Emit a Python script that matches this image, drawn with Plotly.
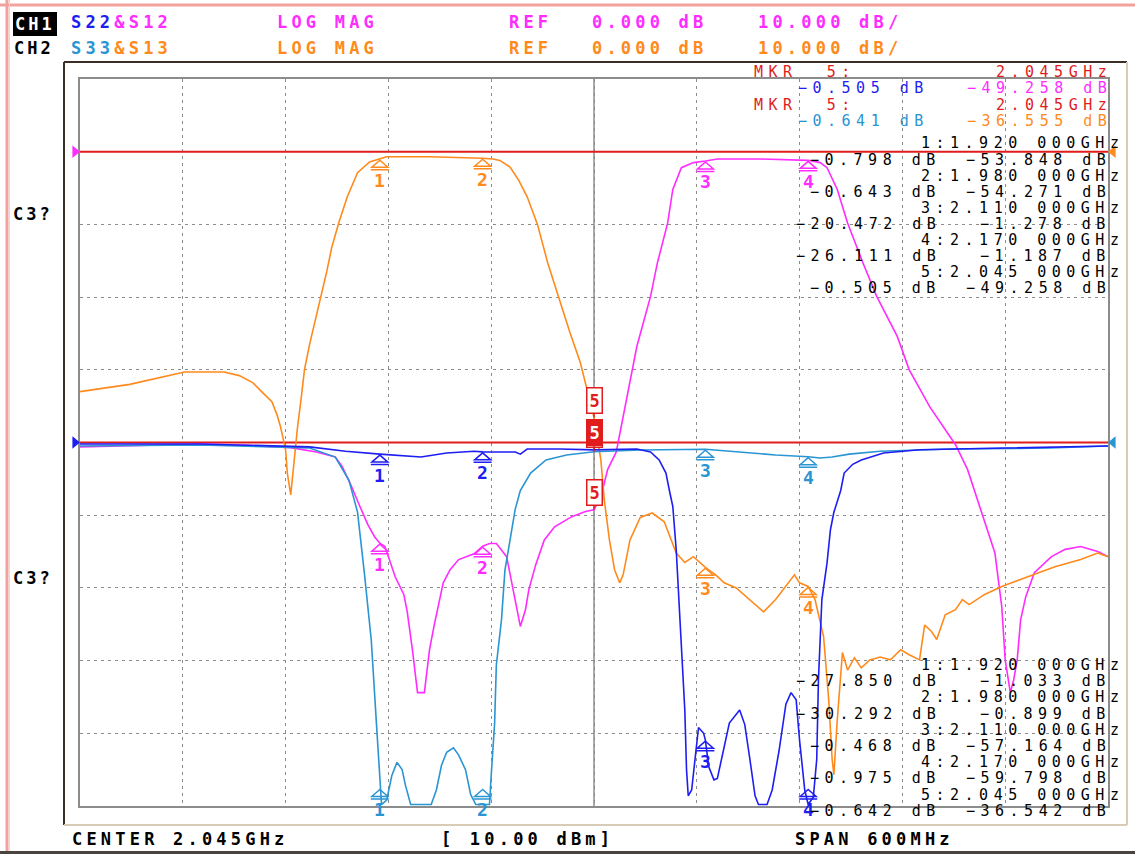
import plotly.graph_objects as go

# ---------------- data (frequency in GHz, level in dB) ----------------
S13_FREQ = [1.745, 1.774, 1.806, 1.829, 1.838, 1.846, 1.851, 1.857, 1.860, 1.862, 1.865, 1.866, 1.868, 1.869,
            1.871, 1.872, 1.874, 1.876, 1.879, 1.881, 1.884, 1.886, 1.889, 1.892, 1.896, 1.901, 1.907, 1.914,
            1.920, 1.924, 1.949, 1.977, 1.980, 1.986, 1.990, 1.996, 2.001, 2.006, 2.012, 2.018, 2.023, 2.031,
            2.037, 2.041, 2.045, 2.049, 2.051, 2.054, 2.057, 2.060, 2.062, 2.066, 2.072, 2.079, 2.086, 2.093,
            2.098, 2.103, 2.110, 2.116, 2.121, 2.128, 2.136, 2.144, 2.151, 2.156, 2.162, 2.165, 2.170, 2.174,
            2.179, 2.182, 2.184, 2.185, 2.187, 2.190, 2.193, 2.197, 2.201, 2.206, 2.212, 2.218, 2.224, 2.229,
            2.235, 2.238, 2.242, 2.245, 2.250, 2.256, 2.260, 2.264, 2.273, 2.283, 2.291, 2.304, 2.314, 2.329,
            2.339, 2.345]
S13_DB = [-33.0, -32.0, -30.3, -30.3, -30.8, -31.8, -33.0, -34.4, -36.2, -37.8, -41.0, -44.2, -47.2, -44.8,
          -41.0, -37.8, -34.1, -30.0, -26.5, -24.5, -21.7, -19.9, -16.5, -13.1, -9.8, -6.2, -2.9, -1.4,
          -1.033, -0.7, -0.7, -0.8, -0.899, -1.0, -1.2, -2.1, -3.9, -6.2, -10.0, -15.3, -19.0, -24.9,
          -29.0, -32.7, -36.55, -42.4, -47.9, -53.4, -57.5, -59.3, -58.2, -53.4, -50.3, -49.7, -50.9, -55.2,
          -56.5, -55.7, -57.164, -58.2, -59.3, -60.0, -61.6, -63.3, -61.6, -60.0, -58.2, -59.3, -59.798, -61.6,
          -66.7, -75.4, -83.6, -85.7, -78.1, -68.9, -71.3, -69.6, -71.0, -69.9, -69.5, -69.9, -68.5, -69.2,
          -69.9, -65.1, -66.0, -67.1, -63.7, -63.0, -61.6, -62.3, -60.9, -59.8, -59.1, -57.9, -57.1, -56.1,
          -55.2, -55.7]

S12_FREQ = [1.745, 1.786, 1.815, 1.844, 1.868, 1.883, 1.894, 1.898, 1.903, 1.908, 1.913, 1.917, 1.920, 1.923,
            1.929, 1.934, 1.936, 1.939, 1.942, 1.946, 1.949, 1.952, 1.957, 1.961, 1.966, 1.975, 1.980, 1.984,
            1.988, 1.994, 1.997, 2.000, 2.002, 2.005, 2.007, 2.011, 2.016, 2.022, 2.032, 2.040, 2.045, 2.049,
            2.053, 2.058, 2.064, 2.070, 2.078, 2.082, 2.088, 2.091, 2.096, 2.103, 2.110, 2.117, 2.142, 2.159,
            2.170, 2.177, 2.181, 2.187, 2.193, 2.202, 2.210, 2.222, 2.229, 2.241, 2.256, 2.263, 2.270, 2.279,
            2.283, 2.285, 2.288, 2.290, 2.292, 2.294, 2.297, 2.302, 2.312, 2.320, 2.329, 2.339, 2.345]
S12_DB = [-40.6, -40.4, -40.2, -40.4, -40.7, -41.3, -42.0, -43.3, -45.8, -48.6, -51.3, -53.0, -53.848, -54.3,
          -58.5, -60.9, -63.3, -68.5, -74.4, -74.4, -68.5, -64.8, -59.3, -57.5, -56.1, -55.3, -54.271, -53.9,
          -53.9, -55.7, -59.3, -63.0, -65.3, -63.0, -60.2, -56.8, -53.4, -51.6, -50.2, -49.5, -49.258, -47.5,
          -43.7, -41.3, -34.1, -26.8, -19.9, -15.3, -9.8, -5.2, -2.2, -1.5, -1.278, -1.0, -1.0, -1.1,
          -1.187, -1.5, -2.2, -5.2, -9.8, -15.3, -19.9, -25.4, -30.0, -35.1, -40.3, -43.7, -48.8, -55.2,
          -62.6, -69.9, -74.4, -72.6, -69.9, -64.4, -61.2, -57.9, -55.7, -54.7, -54.3, -55.0, -55.7]

S22_FREQ = [1.745, 1.815, 1.879, 1.900, 1.920, 1.935, 1.944, 1.959, 1.975, 1.980, 1.999, 2.002, 2.006, 2.025,
            2.045, 2.070, 2.078, 2.083, 2.087, 2.089, 2.091, 2.093, 2.094, 2.096, 2.098, 2.099, 2.100, 2.102,
            2.104, 2.106, 2.109, 2.110, 2.112, 2.115, 2.117, 2.121, 2.124, 2.130, 2.133, 2.136, 2.139, 2.141,
            2.146, 2.149, 2.153, 2.157, 2.160, 2.163, 2.165, 2.168, 2.170, 2.173, 2.175, 2.176, 2.178, 2.181,
            2.183, 2.185, 2.189, 2.191, 2.196, 2.201, 2.214, 2.235, 2.282, 2.345]
S22_DB = [-0.1, -0.1, -0.3, -0.6, -0.798, -0.93, -1.0, -0.72, -0.6, -0.643, -0.65, -0.8, -0.45, -0.45,
          -0.505, -0.45, -0.65, -1.2, -2.1, -3.3, -4.4, -7.4, -9.5, -14.3, -18.4, -22.5, -24.3, -23.9,
          -21.8, -19.6, -20.0, -20.472, -22.3, -23.2, -23.1, -20.8, -19.3, -18.4, -19.4, -21.8, -24.3, -24.9,
          -24.9, -23.9, -21.2, -18.0, -17.2, -17.7, -20.5, -23.9, -24.9, -24.4, -21.8, -16.3, -10.8, -8.3,
          -6.0, -4.8, -3.3, -2.1, -1.5, -1.2, -0.72, -0.5, -0.38, -0.24]

S33_FREQ = [1.745, 1.815, 1.879, 1.894, 1.902, 1.907, 1.911, 1.915, 1.918, 1.920, 1.921, 1.924, 1.927, 1.930,
            1.933, 1.935, 1.938, 1.950, 1.953, 1.956, 1.959, 1.963, 1.966, 1.970, 1.973, 1.976, 1.980, 1.984,
            1.985, 1.987, 1.988, 1.991, 1.993, 1.996, 1.999, 2.002, 2.008, 2.017, 2.029, 2.045, 2.072, 2.110,
            2.130, 2.151, 2.170, 2.177, 2.184, 2.194, 2.212, 2.253, 2.311, 2.345]
S33_DB = [-0.24, -0.17, -0.38, -1.0, -2.6, -4.8, -9.0, -13.6, -19.3, -23.5, -24.9, -24.6, -22.9, -22.0,
          -22.5, -23.6, -24.9, -24.9, -23.9, -22.2, -21.3, -21.0, -21.5, -22.5, -24.2, -24.9, -24.9, -24.9,
          -22.9, -19.3, -15.3, -12.2, -8.8, -6.7, -4.6, -3.3, -2.1, -1.2, -0.86, -0.641, -0.52, -0.468,
          -0.65, -0.86, -0.975, -1.07, -1.0, -0.8, -0.6, -0.45, -0.38, -0.24]

# markers 1..4 and the active marker 5
MKR_FREQ = [1.920, 1.980, 2.110, 2.170, 2.045]
MKR_LABEL = ["1", "2", "3", "4", "5"]
S22_MKR = [-0.798, -0.643, -20.472, -26.111, -0.505]
S12_MKR = [-53.848, -54.271, -1.278, -1.187, -49.258]
S33_MKR = [-27.850, -30.292, -0.468, -0.975, -0.642]
S13_MKR = [-1.033, -0.899, -57.164, -59.798, -36.542]
ACTIVE_CH1 = [-0.505, -49.258]   # S22, S12 readout of MKR 5
ACTIVE_CH2 = [-0.641, -36.555]   # S33, S13 readout of MKR 5

CENTER_GHZ = 2.045
SPAN_MHZ = 600
POWER_DBM = 10.00
REF_DB = 0.000
SCALE_DB = 10.000

assert len(S13_FREQ) == len(S13_DB)
assert len(S12_FREQ) == len(S12_DB)
assert len(S22_FREQ) == len(S22_DB)
assert len(S33_FREQ) == len(S33_DB)

# ---------------- styling ----------------
C_S22 = "#1e1ef2"
C_S33 = "#2a95d3"
C_S12 = "#ff2cff"
C_S13 = "#ff8a1c"
C_RED = "#e01c1c"
C_GRID = "#8c8c8c"
MONO = "DejaVu Sans Mono"

W, H = 1135, 854
L, R, T, B = 80, 1108, 79, 806
F0 = CENTER_GHZ - SPAN_MHZ / 2000.0
F1 = CENTER_GHZ + SPAN_MHZ / 2000.0
Y1_RANGE = [-90, 10]   # S12 / S13 : 10 dB/div, ref one division from top
Y2_RANGE = [-25, 25]   # S22 / S33 : 5 dB/div, ref at centre
Y2_FLOOR = -23.8       # marker anchor for off-screen readings


def y2_on_y1(v):
    frac = (v - Y2_RANGE[0]) / (Y2_RANGE[1] - Y2_RANGE[0])
    return Y1_RANGE[0] + frac * (Y1_RANGE[1] - Y1_RANGE[0])


def PX(x):
    return (x - L) / (R - L)


def PY(y):
    return (B - y) / (B - T)


def fmt(v):
    return ("%.3f" % v).replace("-", "\u2212")


def spaced(s, ls, color=None):
    s = s.replace(" ", "\u00a0")
    st = "letter-spacing:%.1fpx" % ls
    if color:
        st = "color:%s;" % color + st
    return "<span style='%s'>%s</span>" % (st, s)


annotations = []
shapes = []


def text(x, y, parts, size=15, bold=False, anchor="left", ls=5.5, bg=None):
    if isinstance(parts, str):
        parts = [(parts, None)]
    body = "".join(spaced(s, ls, c) for s, c in parts)
    if bold:
        body = "<b>" + body + "</b>"
    base_color = next((c for _, c in parts if c), "black")
    xx = x if anchor == "left" else x + ls
    annotations.append(dict(
        xref="paper", yref="paper", x=PX(xx), y=PY(y), xanchor=anchor, yanchor="middle",
        text=body, showarrow=False, borderpad=0, borderwidth=0,
        bgcolor=bg if bg else "rgba(0,0,0,0)",
        font=dict(family=MONO, size=size, color=base_color)))


fig = go.Figure()
fig.add_trace(go.Scatter(x=S12_FREQ, y=S12_DB, mode="lines", yaxis="y",
                         line=dict(color=C_S12, width=1.6), name="S12"))
fig.add_trace(go.Scatter(x=S13_FREQ, y=S13_DB, mode="lines", yaxis="y",
                         line=dict(color=C_S13, width=1.6), name="S13"))
fig.add_trace(go.Scatter(x=S33_FREQ, y=S33_DB, mode="lines", yaxis="y2",
                         line=dict(color=C_S33, width=1.6), name="S33"))
fig.add_trace(go.Scatter(x=S22_FREQ, y=S22_DB, mode="lines", yaxis="y2",
                         line=dict(color=C_S22, width=1.6), name="S22"))

# ---- grid decorations (all on the primary subplot, between grid and traces) ----
shapes.append(dict(type="line", xref="x", yref="y", x0=CENTER_GHZ, x1=CENTER_GHZ,
                   y0=Y1_RANGE[0], y1=Y1_RANGE[1], line=dict(color=C_GRID, width=1.5), layer="between"))
shapes.append(dict(type="line", xref="x", yref="y", x0=F0, x1=F1, y0=REF_DB, y1=REF_DB,
                   line=dict(color=C_RED, width=2), layer="between"))
shapes.append(dict(type="line", xref="x", yref="y", x0=F0, x1=F1,
                   y0=y2_on_y1(REF_DB), y1=y2_on_y1(REF_DB),
                   line=dict(color=C_RED, width=2), layer="between"))

# reference-position arrows on the frame edges
for xa, path, col, yv in [(0, "M -7 5 L -1 0 L -7 -5 Z", C_S12, REF_DB),
                          (1, "M 7 5 L 1 0 L 7 -5 Z", C_S13, REF_DB),
                          (0, "M -7 5 L -1 0 L -7 -5 Z", C_S22, y2_on_y1(REF_DB)),
                          (1, "M 7 5 L 1 0 L 7 -5 Z", C_S33, y2_on_y1(REF_DB))]:
    shapes.append(dict(type="path", xref="paper", yref="y", xsizemode="pixel", ysizemode="pixel",
                       xanchor=xa, yanchor=yv, path=path,
                       line=dict(color=col, width=1.2), fillcolor=col))

# ---- outer frames ----
def pline(x0, y0, x1, y1, color, width):
    shapes.append(dict(type="line", xref="paper", yref="paper", x0=PX(x0), y0=PY(y0),
                       x1=PX(x1), y1=PY(y1), line=dict(color=color, width=width), layer="below"))

pline(64, 825, 64, 62, "#3a2e26", 2)
pline(64, 62, 1127, 62, "#3a2e26", 2)
pline(1127, 62, 1127, 825, "#d9ccb6", 2)
pline(64, 825, 1127, 825, "#d9ccb6", 2)
pline(0, 5, W, 5, "#f1a29c", 3)
pline(7, 0, 7, H, "#f1a29c", 3)
pline(9.5, 0, 9.5, H, "#e6dccb", 1)
pline(0, 852.5, W, 852.5, "#4a4440", 3)

# ---- trace markers ----
def add_markers(freqs, vals, color, yref, floor=None):
    for i in range(4):
        v = vals[i]
        anchor = v if floor is None else max(v, floor)
        shapes.append(dict(type="path", xref="x", yref=yref, xsizemode="pixel", ysizemode="pixel",
                           xanchor=freqs[i], yanchor=anchor,
                           path="M 0 -1 L -8 -8 L 8 -8 Z M -9 -10.5 L 9 -10.5",
                           line=dict(color=color, width=1.5), fillcolor="rgba(0,0,0,0)"))
        annotations.append(dict(x=freqs[i], y=anchor, xref="x", yref=yref, yshift=-21,
                                text="<b>%s</b>" % MKR_LABEL[i], showarrow=False,
                                font=dict(family=MONO, size=18, color=color)))


add_markers(MKR_FREQ, S12_MKR, C_S12, "y")
add_markers(MKR_FREQ, S13_MKR, C_S13, "y")
add_markers(MKR_FREQ, S33_MKR, C_S33, "y2", Y2_FLOOR)
add_markers(MKR_FREQ, S22_MKR, C_S22, "y2", Y2_FLOOR)


def active_box(v, yref, filled):
    annotations.append(dict(x=MKR_FREQ[4], y=v, xref="x", yref=yref, ax=0, ay=-17,
                            showarrow=True, arrowhead=0, arrowwidth=1.3, arrowcolor=C_RED,
                            text="<b>%s</b>" % MKR_LABEL[4], bordercolor=C_RED, borderwidth=1.5,
                            borderpad=2, bgcolor=C_RED if filled else "white",
                            font=dict(family=MONO, size=17, color="white" if filled else C_RED)))


active_box(S13_MKR[4], "y", False)
active_box(S12_MKR[4], "y", False)
active_box(S33_MKR[4], "y2", False)
active_box(S22_MKR[4], "y2", True)

# ---- header ----
HS, HLS = 17, 4.2
annotations.append(dict(xref="paper", yref="paper", x=PX(12.5), y=PY(24), xanchor="left", yanchor="middle",
                        text="<b>" + spaced("CH1", 3.0) + "</b>", showarrow=False, bgcolor="black",
                        borderpad=2, borderwidth=0, font=dict(family=MONO, size=HS, color="white")))
text(14, 48, "CH2", size=HS, bold=True, ls=3.0)
text(71, 22, [("S22", C_S22), ("&S12", C_S12)], size=HS, bold=True, ls=HLS)
text(71, 48, [("S33", C_S33), ("&S13", C_S13)], size=HS, bold=True, ls=HLS)
for row_y, col in [(22, C_S12), (48, C_S13)]:
    text(277, row_y, [("LOG MAG", col)], size=HS, bold=True, ls=HLS)
    text(509, row_y, [("REF", col)], size=HS, bold=True, ls=HLS)
    text(592, row_y, [("%.3f dB" % REF_DB, col)], size=HS, bold=True, ls=HLS)
    text(758, row_y, [("%.3f dB/" % SCALE_DB, col)], size=HS, bold=True, ls=HLS)

# left labels
text(13, 214, "C3?", size=HS, bold=True, ls=3.0)
text(13, 578, "C3?", size=HS, bold=True, ls=3.0)

# ---- footer ----
text(72, 839, "CENTER %.3fGHz" % CENTER_GHZ, size=HS, bold=True, ls=HLS)
text(441, 839, "[ %.2f dBm]" % POWER_DBM, size=HS, bold=True, ls=HLS)
text(795, 839, "SPAN %dMHz" % SPAN_MHZ, size=HS, bold=True, ls=HLS)

# ---- active marker readout ----
RLS = 5.5
for k, (ch, ca, cb) in enumerate([(ACTIVE_CH1, C_S22, C_S12), (ACTIVE_CH2, C_S33, C_S13)]):
    y0 = 72 + 33 * k
    text(754, y0, [("MKR  %s:" % MKR_LABEL[4], C_RED)], ls=RLS)
    text(1106, y0, [("%.3fGHz" % MKR_FREQ[4], C_RED)], anchor="right", ls=RLS)
    text(923, y0 + 16.5, [(fmt(ch[0]) + " dB", ca)], anchor="right", ls=RLS)
    text(1106, y0 + 16.5, [(fmt(ch[1]) + " dB", cb)], anchor="right", ls=RLS)

# ---- marker tables ----
def table(y_start, step, first, second):
    for j in range(5):
        yf = y_start + 2 * j * step
        text(1118, yf, "%s:%.3f 000GHz" % (MKR_LABEL[j], MKR_FREQ[j]), anchor="right", ls=RLS)
        text(935, yf + step, fmt(first[j]) + " dB", anchor="right", ls=RLS)
        text(1105, yf + step, fmt(second[j]) + " dB", anchor="right", ls=RLS)


table(143.5, 16.06, S22_MKR, S12_MKR)
table(665, 16.2, S33_MKR, S13_MKR)

axis_common = dict(showticklabels=False, ticks="", zeroline=False, fixedrange=True)
fig.update_layout(
    width=W, height=H,
    margin=dict(l=L, r=W - R, t=T, b=H - B, pad=0),
    paper_bgcolor="white", plot_bgcolor="white",
    showlegend=False,
    xaxis=dict(range=[F0, F1], tick0=F0, dtick=0.06, showgrid=True, gridcolor=C_GRID,
               griddash="3px,4px", gridwidth=1.2, showline=True, mirror=True,
               linecolor=C_GRID, linewidth=1.5, **axis_common),
    yaxis=dict(range=Y1_RANGE, tick0=0, dtick=10, showgrid=True, gridcolor=C_GRID,
               griddash="3px,4px", gridwidth=1.2, showline=True, mirror=True,
               linecolor=C_GRID, linewidth=1.5, **axis_common),
    yaxis2=dict(range=Y2_RANGE, overlaying="y", visible=False, fixedrange=True),
    shapes=shapes,
    annotations=annotations,
)

fig.write_html("out.html", config={"displayModeBar": False},
               post_script="document.body.style.margin='0';document.body.style.overflow='hidden';")
